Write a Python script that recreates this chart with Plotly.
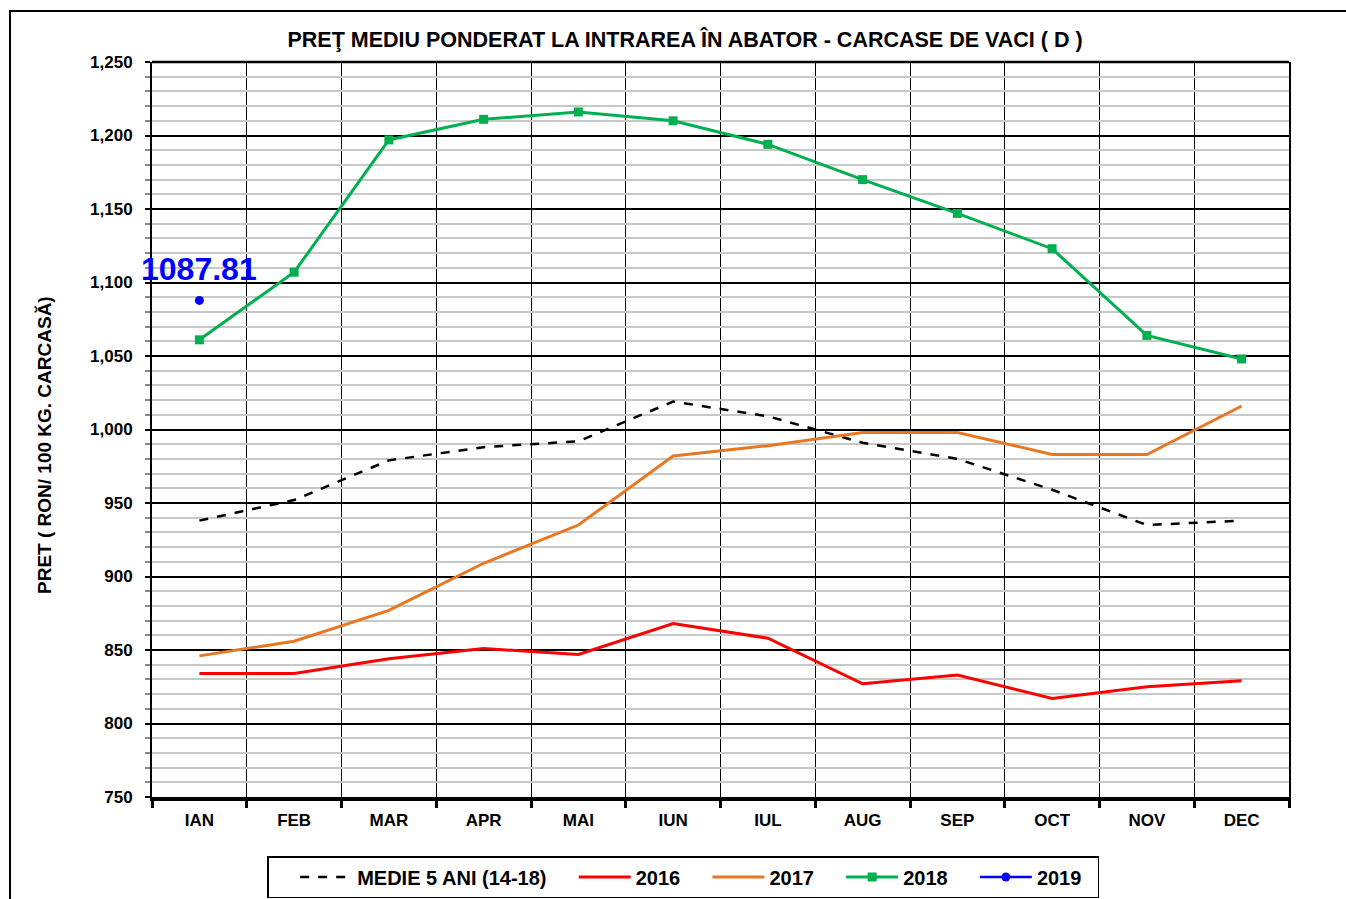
import plotly.graph_objects as go

months = ["IAN", "FEB", "MAR", "APR", "MAI", "IUN", "IUL", "AUG", "SEP", "OCT", "NOV", "DEC"]
medie_5_ani = [938, 952, 979, 988, 992, 1019, 1009, 991, 980, 959, 935, 938]
y2016 = [834, 834, 844, 851, 847, 868, 858, 827, 833, 817, 825, 829]
y2017 = [846, 856, 877, 909, 935, 982, 989, 998, 998, 983, 983, 1016]
y2018 = [1061, 1107, 1197, 1211, 1216, 1210, 1194, 1170, 1147, 1123, 1064, 1048]
y2019 = [1087.81]

FONT = "Arial, 'Liberation Sans', sans-serif"
xi = list(range(len(months)))
PAD = "\u00a0" * 4

fig = go.Figure()
fig.add_trace(go.Scatter(x=xi, y=medie_5_ani, name="MEDIE 5 ANI (14-18)" + PAD, mode="lines",
                         line=dict(color="black", width=2.5, dash="dash")))
fig.add_trace(go.Scatter(x=xi, y=y2016, name="2016" + PAD, mode="lines",
                         line=dict(color="#ff0000", width=3)))
fig.add_trace(go.Scatter(x=xi, y=y2017, name="2017" + PAD, mode="lines",
                         line=dict(color="#e87722", width=3)))
fig.add_trace(go.Scatter(x=xi, y=y2018, name="2018" + PAD, mode="lines+markers",
                         line=dict(color="#00b050", width=3),
                         marker=dict(symbol="square", size=9, color="#00b050")))
fig.add_trace(go.Scatter(x=xi[:len(y2019)], y=y2019, name="2019" + "\u00a0" * 2,
                         mode="lines+markers", cliponaxis=False,
                         line=dict(color="#0000ff", width=2.5),
                         marker=dict(symbol="circle", size=9, color="#0000ff")))

# data label for the 2019 value
fig.add_annotation(x=xi[0], y=y2019[0], xref="x", yref="y", text=f"<b>{y2019[0]:.2f}</b>",
                   showarrow=False, yshift=31, xanchor="center", yanchor="middle",
                   font=dict(family=FONT, size=32, color="#0000ff"))

L, R, T, B = 152, 57, 62, 102
W, H = 1346, 899
pw, ph = W - L - R, H - T - B

fig.update_layout(
    width=W, height=H,
    margin=dict(l=L, r=R, t=T, b=B, autoexpand=False),
    paper_bgcolor="white", plot_bgcolor="white",
    font=dict(family=FONT, color="black", size=17),
    title=dict(text="<b>PREŢ MEDIU PONDERAT LA INTRAREA ÎN ABATOR - CARCASE DE VACI ( D )</b>",
               x=685 / W, y=(H - 39) / H, xanchor="center", yanchor="middle",
               font=dict(size=21.5, family=FONT, color="black")),
    showlegend=True,
    legend=dict(orientation="h", x=(683 - L) / pw, xanchor="center",
                y=(T + ph - 856) / ph, yanchor="top",
                bordercolor="black", borderwidth=1.5, bgcolor="white",
                font=dict(size=20, family=FONT, color="black", weight="bold"),
                title=dict(text="\u00a0" * 3, side="left", font=dict(size=20)),
                itemwidth=52, tracegroupgap=0),
)

fig.update_xaxes(
    range=[-0.5, 11.5], tickmode="array", tickvals=xi, ticktext=months,
    showgrid=False, ticks="", ticklabelstandoff=5,
    tickfont=dict(size=17, family=FONT, color="black", weight="bold"),
    showline=True, linecolor="black", linewidth=4, zeroline=False,
    minor=dict(tickmode="linear", tick0=0.5, dtick=1, showgrid=True,
               gridcolor="black", gridwidth=1, ticks="outside", ticklen=7,
               tickwidth=3, tickcolor="black"),
)
fig.update_yaxes(
    range=[750, 1250], dtick=50, tick0=750, tickformat=",",
    showgrid=True, gridcolor="black", gridwidth=2,
    ticks="outside", ticklen=5, tickwidth=1.5, tickcolor="black", ticklabelstandoff=9,
    tickfont=dict(size=17, family=FONT, color="black", weight="bold"),
    showline=True, linecolor="black", linewidth=2, mirror=True, zeroline=False,
    minor=dict(dtick=10, showgrid=True, gridcolor="#c8c8c8", gridwidth=2,
               ticks="outside", ticklen=5, tickcolor="#888888"),
)

# top border of plot area
fig.add_shape(type="line", xref="paper", yref="paper", x0=0, x1=1, y0=1, y1=1,
              line=dict(color="black", width=2.5))
# outer chart border
fig.add_shape(type="rect", xref="paper", yref="paper",
              x0=(10 - L) / pw, x1=(1360 - L) / pw,
              y0=-(920 - (T + ph)) / ph, y1=1 + (T - 11) / ph,
              line=dict(color="black", width=2), fillcolor="rgba(0,0,0,0)", layer="below")

fig.add_annotation(text="<b>PRET ( RON/ 100 KG. CARCASĂ)</b>", xref="paper", yref="paper",
                   x=(45 - L) / pw, y=(T + ph - 445) / ph, textangle=-90, showarrow=False,
                   xanchor="center", yanchor="middle",
                   font=dict(size=19, family=FONT, color="black"))

fig.write_html("out.html", config={"displayModeBar": False},
               post_script="document.body.style.margin='0';document.body.style.overflow='hidden';")
